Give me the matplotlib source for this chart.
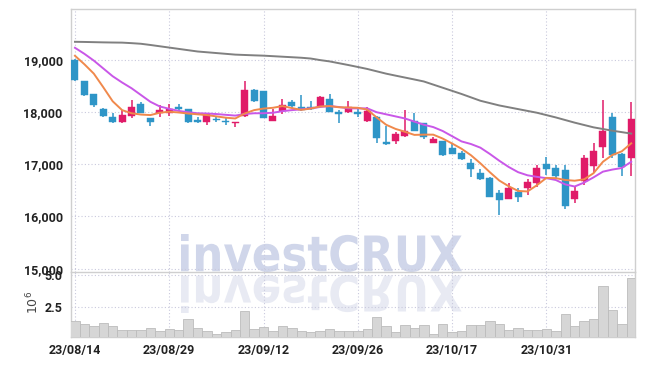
import numpy as np
import matplotlib
matplotlib.use('Agg')
import matplotlib.pyplot as plt
from matplotlib.textpath import TextPath
from matplotlib.patches import PathPatch
from matplotlib.font_manager import FontProperties
from matplotlib.transforms import Affine2D, IdentityTransform

# daily candles, 60 trading days (23/08/14 .. 23/11/14)
opens = [19000, 18597, 18348, 18055, 17913, 17817, 17926, 18156, 17882, 17978,
         17978, 18105, 18060, 17843, 17817, 17868, 17830, 17800, 17932, 18425,
         18406, 17836, 18028, 18189, 18093, 18093, 18124, 18252, 17997, 17997,
         17997, 17836, 17913, 17428, 17453, 17549, 17830, 17785, 17415, 17447,
         17307, 17223, 17019, 16840, 16744, 16456, 16335, 16463, 16540, 16636,
         17006, 16923, 16891, 16329, 16680, 16967, 17326, 17913, 17198, 17121]
highs = [19015, 18600, 18350, 18080, 17990, 18041, 18233, 18195, 17890, 18137,
         18150, 18150, 18070, 17910, 17970, 17925, 17910, 17820, 18597, 18444,
         18410, 18055, 18246, 18233, 18329, 18214, 18310, 18342, 18041, 18214,
         18105, 18105, 17920, 17734, 17625, 18041, 17978, 17800, 17520, 17450,
         17415, 17250, 17096, 16904, 16750, 16507, 16648, 16540, 16712, 16987,
         17146, 16987, 16987, 16571, 17178, 17403, 18233, 17990, 17210, 18189]
lows = [18597, 18310, 18100, 17910, 17800, 17800, 17888, 17980, 17734, 17913,
        17930, 18022, 17800, 17800, 17754, 17817, 17755, 17710, 17913, 18200,
        17890, 17830, 17958, 18074, 18022, 18040, 18120, 18000, 17786, 17990,
        17913, 17820, 17403, 17375, 17383, 17530, 17640, 17490, 17405, 17160,
        17190, 17090, 16763, 16700, 16370, 16035, 16330, 16283, 16411, 16571,
        16795, 16731, 16140, 16250, 16603, 16827, 17115, 17115, 16776, 16776]
closes = [18617, 18329, 18137, 17926, 17805, 17945, 18099, 17990, 17817, 18041,
          18055, 18060, 17817, 17817, 17965, 17850, 17810, 17817, 18425, 18220,
          17894, 17926, 18137, 18124, 18041, 18055, 18297, 18009, 17971, 18093,
          17971, 18022, 17498, 17383, 17575, 17639, 17645, 17518, 17485, 17178,
          17197, 17102, 16910, 16718, 16380, 16315, 16540, 16380, 16667, 16923,
          16910, 16782, 16206, 16488, 17115, 17255, 17639, 17178, 16955, 17869]

# moving averages as drawn
ma_short = [19083, 18920, 18740, 18480, 18210, 18040, 17980, 17955, 17945, 17990,
            18010, 17995, 17975, 17960, 17945, 17920, 17895, 17880, 17975, 18040,
            18070, 18085, 18118, 18080, 18045, 18070, 18110, 18118, 18095, 18090,
            18085, 18050, 17900, 17760, 17680, 17625, 17565, 17570, 17570, 17495,
            17400, 17300, 17175, 17020, 16850, 16690, 16580, 16490, 16480, 16600,
            16740, 16735, 16700, 16686, 16712, 16830, 17050, 17180, 17250, 17403]
ma_mid = [19236, 19120, 18990, 18840, 18690, 18570, 18460, 18330, 18200, 18110,
          18065, 18025, 18000, 17980, 17975, 17965, 17950, 17935, 17965, 17980,
          17980, 17990, 18020, 18040, 18055, 18075, 18100, 18118, 18100, 18074,
          18074, 18074, 18000, 17960, 17920, 17880, 17820, 17760, 17715, 17640,
          17540, 17440, 17390, 17320, 17200, 17070, 16950, 16850, 16790, 16760,
          16735, 16700, 16615, 16575, 16650, 16750, 16860, 16900, 16930, 17050]
ma_long = [19351, 19348, 19344, 19340, 19337, 19335, 19325, 19313, 19290, 19265,
           19240, 19215, 19190, 19165, 19150, 19135, 19120, 19105, 19098, 19091,
           19085, 19075, 19065, 19055, 19045, 19030, 19000, 18975, 18940, 18905,
           18868, 18830, 18785, 18740, 18702, 18665, 18628, 18590, 18530, 18470,
           18410, 18350, 18285, 18220, 18175, 18130, 18095, 18060, 18025, 17990,
           17945, 17900, 17850, 17800, 17755, 17710, 17678, 17645, 17618, 17590]

# volume in millions
volume = [1.43, 1.22, 1.05, 1.30, 1.05, 0.77, 0.77, 0.77, 0.89, 0.69,
          0.84, 0.77, 1.58, 0.89, 0.69, 0.46, 0.61, 0.77, 2.19, 0.84,
          0.99, 0.69, 1.05, 0.89, 0.69, 0.61, 0.69, 0.82, 0.69, 0.69,
          0.69, 0.84, 1.74, 1.05, 0.61, 1.12, 0.89, 1.12, 0.43, 1.20,
          0.61, 0.69, 1.12, 1.12, 1.43, 1.20, 0.77, 0.89, 0.77, 0.77,
          0.82, 0.69, 1.97, 1.05, 1.43, 1.58, 4.10, 2.27, 1.20, 4.72]

tick_pos = [0, 10, 20, 30, 40, 50]
tick_labels = ['23/08/14', '23/08/29', '23/09/12', '23/09/26', '23/10/17', '23/10/31']

UP = '#e01b68'
DOWN = '#2e95c7'
GRID = '#c9c9dd'
SPINE = '#cfcfcf'
fam = ['Roboto', 'DejaVu Sans']

W, H = 645, 366
fig = plt.figure(figsize=(W / 100, H / 100), dpi=100, facecolor='white')
ax = fig.add_axes([71 / W, 1 - 272 / H, 564 / W, 263 / H])
axv = fig.add_axes([71 / W, 1 - 337 / H, 564 / W, 65 / H], sharex=ax)
for a in (ax, axv):
    a.set_facecolor('none')

x = np.arange(len(opens))
o = np.array(opens)
c = np.array(closes)
cols = [UP if cc >= oo else DOWN for oo, cc in zip(o, c)]

ax.vlines(x, lows, highs, colors=cols, linewidth=1.1, zorder=3)
body = np.maximum(np.abs(c - o), 12)
ax.bar(x, body, bottom=np.minimum(o, c), width=0.75, color=cols,
       edgecolor=cols, linewidth=0.3, zorder=4)

ax.plot(x, ma_long, color='#808080', linewidth=1.4, zorder=5)
ax.plot(x, ma_mid, color='#c957e8', linewidth=1.4, zorder=5)
ax.plot(x, ma_short, color='#f0894c', linewidth=1.4, zorder=6)

axv.bar(x, volume, width=1.0, color='#d6d6d6', edgecolor='#bcbcbc',
        linewidth=0.6, zorder=3)

ax.set_xlim(-0.42, 59.4)
ax.set_ylim(14935, 19980)
axv.set_ylim(0.23, 5.2)

ax.set_yticks([15000, 16000, 17000, 18000, 19000])
ax.set_yticklabels(['{:,}'.format(v) for v in [15000, 16000, 17000, 18000, 19000]])
axv.set_yticks([2.5, 5.0])
axv.set_yticklabels(['2.5', '5.0'])
axv.set_xticks(tick_pos)
axv.set_xticklabels(tick_labels)
ax.tick_params(axis='x', labelbottom=False, length=0)

for a in (ax, axv):
    a.tick_params(length=0, pad=6, labelsize=9, labelcolor='#222222')
    for lab in a.get_xticklabels() + a.get_yticklabels():
        lab.set_family(fam)
        lab.set_fontweight('bold')
    a.grid(True, color=GRID, linestyle=(0, (1, 2)), linewidth=0.8, zorder=0)
    a.set_axisbelow(True)
    for s in a.spines.values():
        s.set_color(SPINE)
        s.set_linewidth(1.0)
axv.spines['top'].set_visible(False)
axv.tick_params(axis='x', pad=5)

fig.text(33 / W, 1 - 302 / H, r'$10^{6}$', rotation=90, ha='center', va='center',
         fontsize=9, color='#444444')

# watermark + reflection, fitted to the box seen in the picture
tp = TextPath((0, 0), 'investCRUX', size=50,
              prop=FontProperties(family=['DejaVu Sans'], weight='bold'))
ext = tp.get_extents()
sx = (462 - 181) / ext.width
sy = (272 - 234) / ext.height
wm = Affine2D().translate(-ext.x0, -ext.y0).scale(sx, sy).translate(181, H - 272)
fig.patches.append(PathPatch(tp, transform=wm + IdentityTransform(),
                             facecolor='#d0d6ea', edgecolor='none', zorder=-1))
rf = Affine2D().translate(-ext.x0, -ext.y0).scale(sx, -sy).translate(181, H - 275)
fig.patches.append(PathPatch(tp, transform=rf + IdentityTransform(),
                             facecolor='#e8eaf3', edgecolor='none', zorder=-1))

fig.savefig('out.png', dpi=100, facecolor='white')
